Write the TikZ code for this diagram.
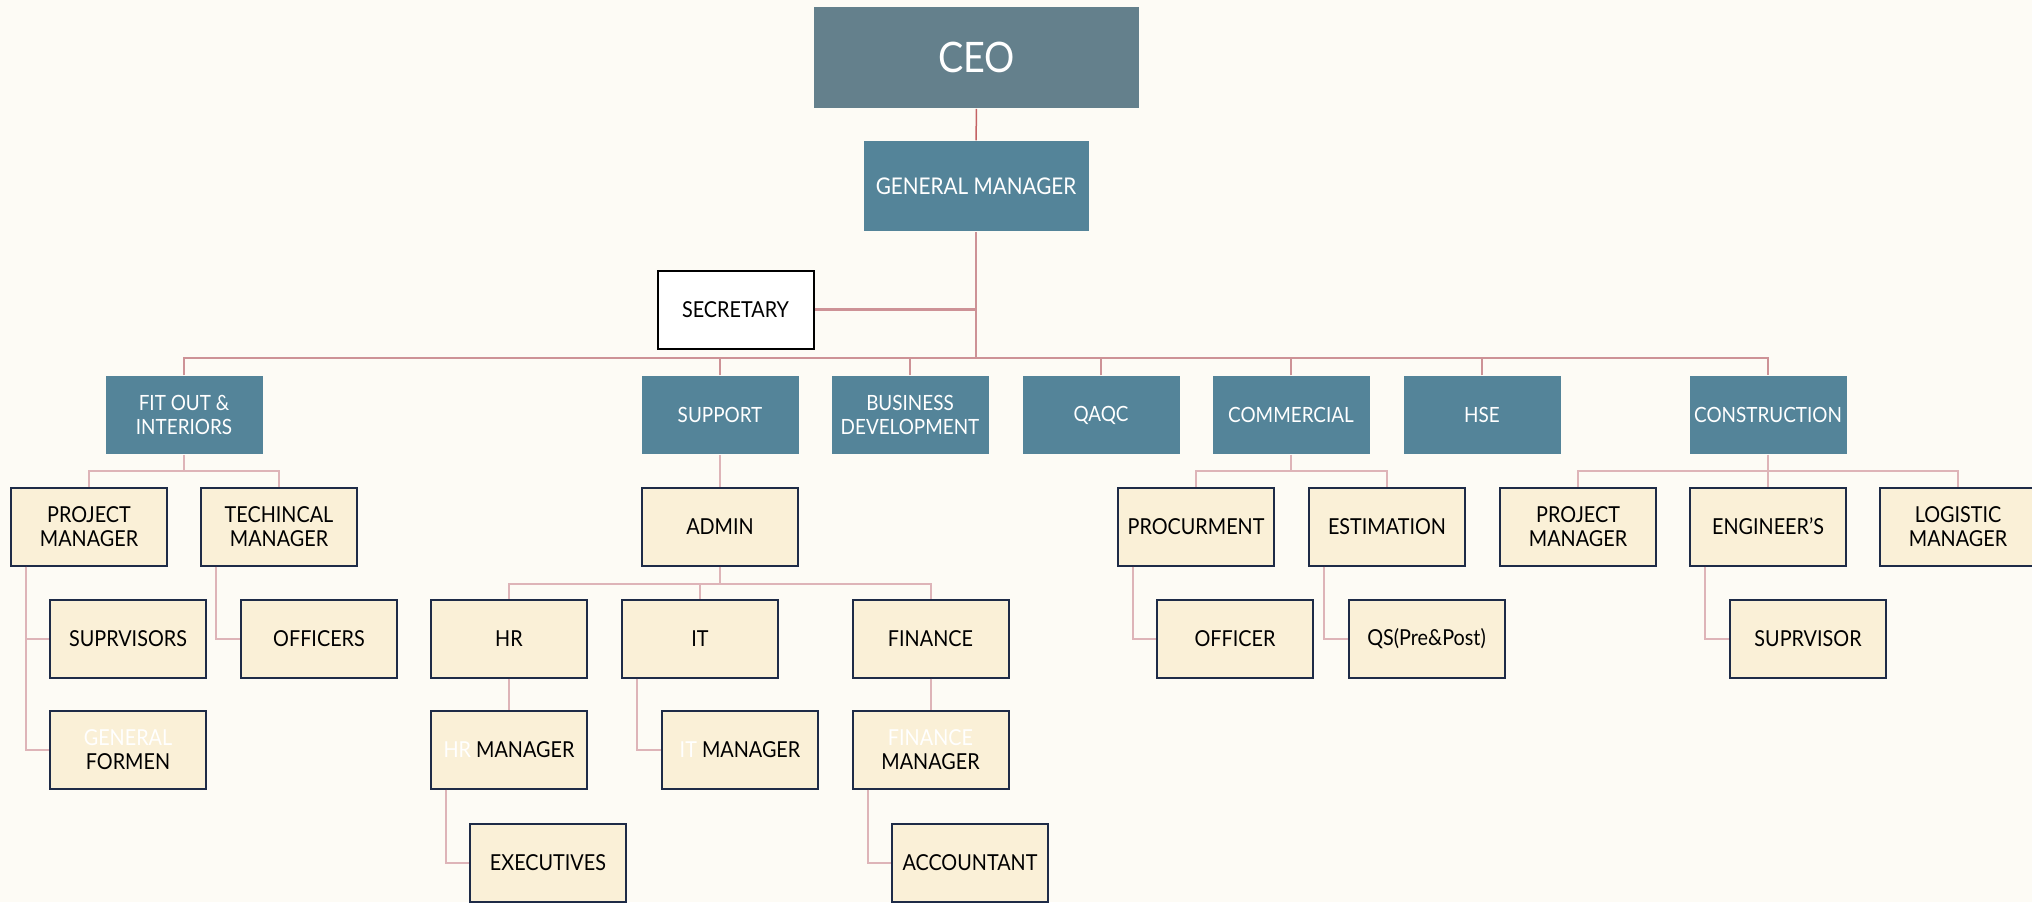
\documentclass[tikz,border=0pt]{standalone}
\usepackage{fontspec}
\setmainfont{Lato}[FakeStretch=0.9]

\definecolor{bgcream}{RGB}{253,251,245}
\definecolor{ceoslate}{RGB}{100,128,140}
\definecolor{deptblue}{RGB}{84,132,153}
\definecolor{staffcream}{RGB}{250,240,215}
\definecolor{staffnavy}{RGB}{30,43,71}
\definecolor{linkpink}{RGB}{222,180,184}
\definecolor{trunkpink}{RGB}{205,146,150}
\definecolor{ceored}{RGB}{196,98,100}

\tikzset{every picture/.style={line width=0.75pt}}
\tikzset{
  topbox/.style={fill=ceoslate, text=white, minimum width=162.5pt, minimum height=50.5pt, font=\fontsize{21}{24}\selectfont},
  deptbox/.style={fill=deptblue, text=white, minimum width=78.5pt, minimum height=39pt, align=center, inner sep=1pt, font=\fontsize{10.5}{12}\selectfont},
  staffbox/.style={draw=staffnavy, line width=1pt, fill=staffcream, text=black, minimum width=78pt, minimum height=39pt, align=center, inner sep=1pt, font=\fontsize{11}{12}\selectfont},
  link/.style={draw=linkpink, line width=1pt},
  trunk/.style={draw=trunkpink, line width=1.25pt}
}

\begin{document}
\begin{tikzpicture}[x=0.5pt,y=0.5pt,yscale=-1,xscale=1]
\fill[bgcream] (0,0) rectangle (2032,902);
\useasboundingbox (0,0) rectangle (2032,902);

% top
\node[topbox] (ceo) at (976.5,57.5) {CEO};
\node[deptbox, minimum width=112.5pt, minimum height=45pt, font=\fontsize{11.5}{13}\selectfont] (gm) at (976,186) {GENERAL MANAGER};
\node[staffbox, draw=black, fill=white] (sec) at (735.5,309.5) {SECRETARY};

% departments
\node[deptbox] (fit) at (184,415) {FIT OUT \&\\INTERIORS};
\node[deptbox] (sup) at (720,415) {SUPPORT};
\node[deptbox] (bd) at (910,415) {BUSINESS\\DEVELOPMENT};
\node[deptbox] (qaqc) at (1101,415) {QAQC};
\node[deptbox] (com) at (1291,415) {COMMERCIAL};
\node[deptbox] (hse) at (1482,415) {HSE};
\node[deptbox] (con) at (1768,415) {CONSTRUCTION};

% third row
\node[staffbox] (fpm) at (89,526.5) {PROJECT\\MANAGER};
\node[staffbox] (ftm) at (279,526.5) {TECHINCAL\\MANAGER};
\node[staffbox] (adm) at (720,526.5) {ADMIN};
\node[staffbox] (proc) at (1196,526.5) {PROCURMENT};
\node[staffbox] (est) at (1387,526.5) {ESTIMATION};
\node[staffbox] (cpm) at (1578,526.5) {PROJECT\\MANAGER};
\node[staffbox] (eng) at (1768,526.5) {ENGINEER'S};
\node[staffbox] (log) at (1958,526.5) {LOGISTIC\\MANAGER};

% fourth row
\node[staffbox] (supv) at (128,638.5) {SUPRVISORS};
\node[staffbox] (offs) at (319,638.5) {OFFICERS};
\node[staffbox] (hr) at (509,638.5) {HR};
\node[staffbox] (it) at (700,638.5) {IT};
\node[staffbox] (fin) at (930.5,638.5) {FINANCE};
\node[staffbox] (offc) at (1235,638.5) {OFFICER};
\node[staffbox] (qs) at (1426.5,638.5) {QS(Pre\&Post)};
\node[staffbox] (csup) at (1808,638.5) {SUPRVISOR};

% fifth and sixth rows
\node[staffbox] (gf) at (128,749.5) {\textcolor{white}{GENERAL}\\FORMEN};
\node[staffbox] (hrm) at (509,749.5) {\textcolor{white}{HR} MANAGER};
\node[staffbox] (itm) at (740,749.5) {\textcolor{white}{IT} MANAGER};
\node[staffbox] (finm) at (930.5,749.5) {\textcolor{white}{FINANCE}\\MANAGER};
\node[staffbox] (exe) at (548,862.5) {EXECUTIVES};
\node[staffbox] (acc) at (970,862.5) {ACCOUNTANT};

% trunk and bus
\draw[ceored, line width=0.75pt] (ceo) -- (gm);
\coordinate (bus) at (976,358);
\draw[trunk] (gm.south) -- (bus);
\draw[trunk] (sec.east) -- (sec.east -| gm.south);
\draw[trunk] (fit.north) |- (bus) -| (con.north);
\foreach \d in {sup,bd,qaqc,com,hse}
  \draw[trunk] (\d.north) -- (\d.north |- bus);

% branches
\draw[link] (fit.south) -- ++(0,16) coordinate (fitjoin);
\draw[link] (fpm.north) |- (fitjoin) -| (ftm.north);
\draw[link] (sup) -- (adm);
\draw[link] (adm.south) -- ++(0,17) coordinate (admjoin);
\draw[link] (hr.north) |- (admjoin) -| (fin.north);
\draw[link] (it.north) -- (it.north |- admjoin);
\draw[link] (com.south) -- ++(0,16) coordinate (comjoin);
\draw[link] (proc.north) |- (comjoin) -| (est.north);
\draw[link] (con) -- (eng);
\draw[link] (con.south) -- ++(0,16) coordinate (conjoin);
\draw[link] (cpm.north) |- (conjoin) -| (log.north);

% elbows
\draw[link] (fpm.south west) ++(16,0) |- (supv.west);
\draw[link] (fpm.south west) ++(16,0) |- (gf.west);
\draw[link] (ftm.south west) ++(16,0) |- (offs.west);
\draw[link] (hr) -- (hrm);
\draw[link] (hrm.south west) ++(16,0) |- (exe.west);
\draw[link] (it.south west) ++(16,0) |- (itm.west);
\draw[link] (fin) -- (finm);
\draw[link] (finm.south west) ++(16,0) |- (acc.west);
\draw[link] (proc.south west) ++(16,0) |- (offc.west);
\draw[link] (est.south west) ++(16,0) |- (qs.west);
\draw[link] (eng.south west) ++(16,0) |- (csup.west);
\end{tikzpicture}
\end{document}
